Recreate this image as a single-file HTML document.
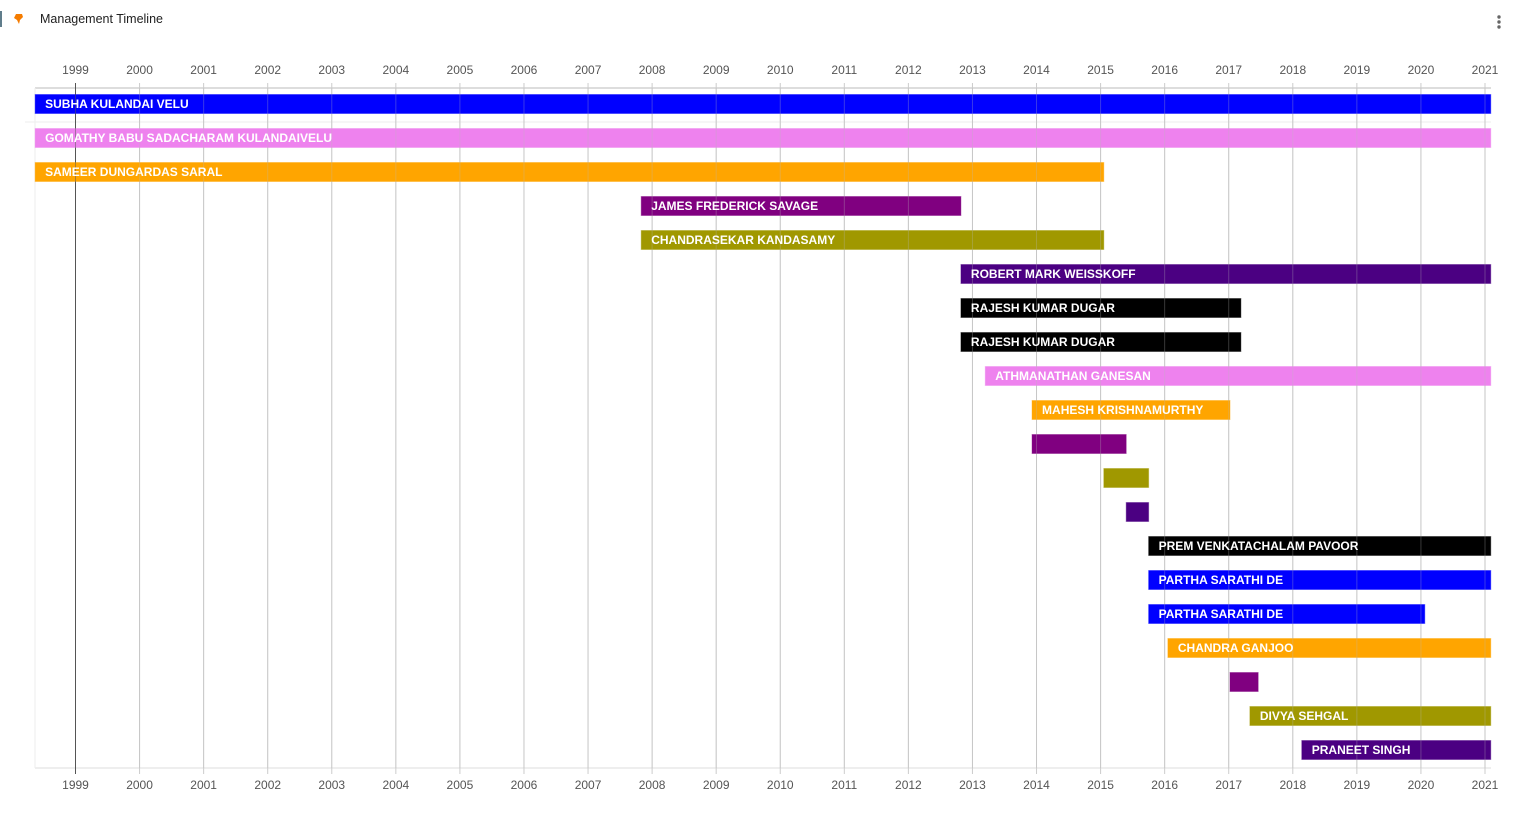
<!DOCTYPE html>
<html><head><meta charset="utf-8"><style>
html,body{margin:0;padding:0;background:#fff;width:1522px;height:838px;overflow:hidden;font-family:"Liberation Sans",sans-serif}
#hdr{position:absolute;left:0;top:0;width:1522px;height:40px}
#title{position:absolute;left:40px;top:12px;font-size:12.5px;color:#212121}
svg{position:absolute;left:0;top:0}
</style></head><body>
<div id="hdr">
<div style="position:absolute;left:0;top:11px;width:2px;height:16px;background:#607d8b"></div>
<svg width="30" height="40" style="left:10px;top:8px"><path d="M6 6 L12 6 L13 9 L10 12 L9 16 L7 12 L4 10 Z" fill="#f57c00"/></svg>
<div id="title">Management Timeline</div>
<svg width="20" height="40" style="left:1490px;top:0"><circle cx="9" cy="17" r="1.7" fill="#666"/><circle cx="9" cy="22" r="1.7" fill="#666"/><circle cx="9" cy="27" r="1.7" fill="#666"/></svg>
</div>
<svg id="chart" width="1522" height="838" style="top:0"></svg>
<script>
const names=["SUBHA KULANDAI VELU","GOMATHY BABU SADACHARAM KULANDAIVELU","SAMEER DUNGARDAS SARAL","JAMES FREDERICK SAVAGE","CHANDRASEKAR KANDASAMY","ROBERT MARK WEISSKOFF","RAJESH KUMAR DUGAR","RAJESH KUMAR DUGAR","ATHMANATHAN GANESAN","MAHESH KRISHNAMURTHY","","","","PREM VENKATACHALAM PAVOOR","PARTHA SARATHI DE","PARTHA SARATHI DE","CHANDRA GANJOO","","DIVYA SEHGAL","PRANEET SINGH"];
const starts=[1998.37,1998.37,1998.37,2007.83,2007.83,2012.82,2012.82,2012.82,2013.2,2013.93,2013.93,2015.05,2015.4,2015.75,2015.75,2015.75,2016.05,2017.02,2017.33,2018.14];
const ends=[2021.09,2021.09,2015.05,2012.82,2015.05,2021.09,2017.19,2017.19,2021.09,2017.02,2015.4,2015.75,2015.75,2021.09,2021.09,2020.06,2021.09,2017.46,2021.09,2021.09];
const colors=["#0000ff","#ee82ee","#ffa500","#800080","#a09800","#4b0082","#000000","#000000","#ee82ee","#ffa500","#800080","#a09800","#4b0082","#000000","#0000ff","#0000ff","#ffa500","#800080","#a09800","#4b0082"];
const years=[1999,2000,2001,2002,2003,2004,2005,2006,2007,2008,2009,2010,2011,2012,2013,2014,2015,2016,2017,2018,2019,2020,2021];
const NS="http://www.w3.org/2000/svg",svg=document.getElementById('chart');
const x=y=>75.5+(y-1999)*(1485-75.5)/22;
const rowY=i=>94.5+i*34;
const L=35,R=1491,T=88,B=768;
function mk(t,a){const e=document.createElementNS(NS,t);for(const k in a)e.setAttribute(k,a[k]);svg.appendChild(e);return e;}
let e=mk('line',{x1:L,x2:R,y1:T,y2:T,stroke:'#bbb'});

e=mk('line',{x1:L,x2:R,y1:B,y2:B,stroke:'#ddd'});

e=mk('line',{x1:L,x2:L,y1:T,y2:B,stroke:'#eee'});

e=mk('line',{x1:25,x2:R,y1:122,y2:122,stroke:'#eee'});

years.forEach((y,i)=>{
  const l=mk('line',{x1:x(y),x2:x(y),y1:T-5,y2:B+6,stroke:i==0?'#555':'#ccc'});
  
  
  const t1=mk('text',{x:x(y),y:74,'text-anchor':'middle','font-size':12,fill:'#555'});t1.textContent=y;
  
  
  const t2=mk('text',{x:x(y),y:789,'text-anchor':'middle','font-size':12,fill:'#555'});t2.textContent=y;
  
  
});
names.forEach((n,i)=>{
  const b=mk('rect',{x:x(starts[i]),y:rowY(i),width:x(ends[i])-x(starts[i]),height:19,fill:colors[i],stroke:colors[i],'stroke-opacity':0.4});
  
  
});
years.forEach((y,i)=>{
  const l=mk('line',{x1:x(y),x2:x(y),y1:T,y2:B,stroke:i==0?'#555':'#bbb','stroke-opacity':i==0?0.5:0.3});
  
  
});
names.forEach((n,i)=>{
  if(!n)return;
  const t=mk('text',{x:x(starts[i])+10,y:rowY(i)+13.5,'font-size':12,'font-weight':'bold',fill:'#fff'});t.textContent=n;
  
  
});
</script>
</body></html>
